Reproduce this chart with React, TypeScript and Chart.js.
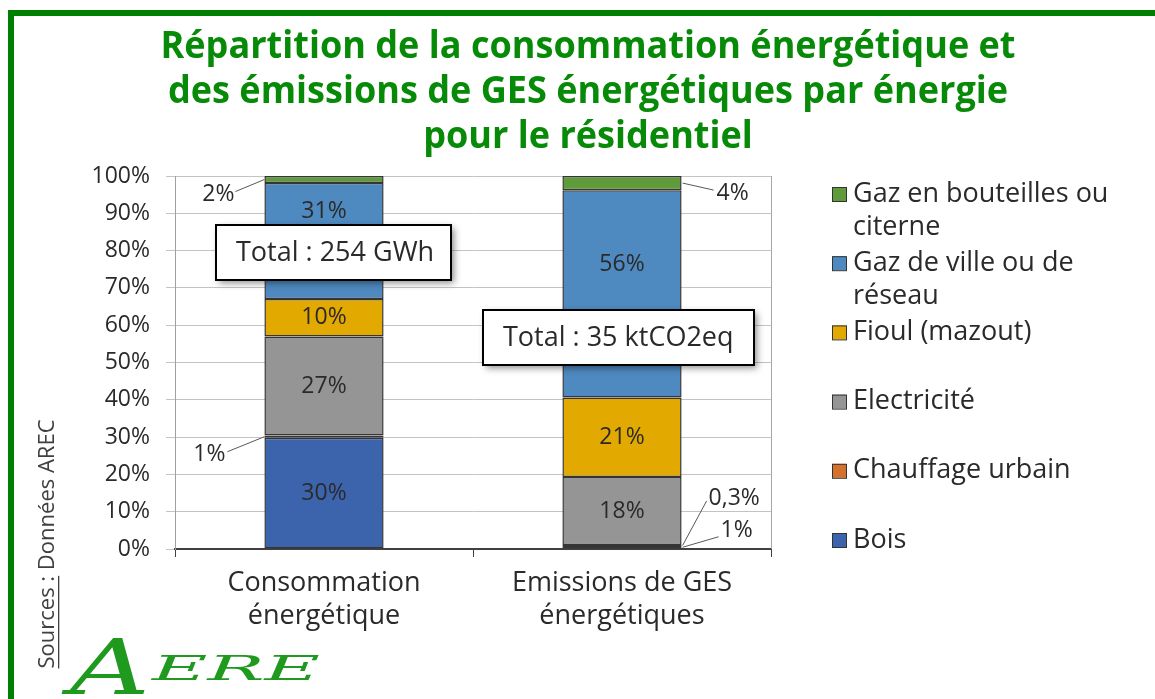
import React, { useEffect, useRef } from 'react';
import { Chart, registerables } from 'chart.js';

Chart.register(...registerables);

// ---------- data ----------
const categories = [['Consommation', 'énergétique'], ['Emissions de GES', 'énergétiques']];
const seriesNames = [
  'Bois',
  'Chauffage urbain',
  'Electricité',
  'Fioul (mazout)',
  'Gaz de ville ou de réseau',
  'Gaz en bouteilles ou citerne',
];
const bois = [29.8, 0.8];
const chauffageUrbain = [0.6, 0.3];
const electricite = [26.6, 18.2];
const fioul = [10.0, 21.3];
const gazDeVille = [31.1, 55.6];
const gazEnBouteilles = [1.9, 3.8];
const yTickValues = [0, 10, 20, 30, 40, 50, 60, 70, 80, 90, 100];
const totalLabels = ['Total : 254 GWh', 'Total : 35 ktCO2eq'];
const titleLines = [
  'Répartition de la consommation énergétique et',
  'des émissions de GES énergétiques par énergie',
  'pour le résidentiel',
];
const sourceUnderlined = 'Sources :';
const sourceRest = ' Données AREC';
const logoText = ['A', 'ERE'];

// ---------- styles ----------
const seriesColors = ['#3B64AD', '#D4712D', '#959595', '#E2A900', '#4E89BF', '#5F9B3B'];
const FONT = '"Open Sans", "DejaVu Sans", sans-serif';
const TEXT = '#2a2a2a';

// label placement tweaks (key: datasetIndex-categoryIndex)
const insideOffsets: Record<string, number> = { '4-0': -30, '4-1': -29 };
const callouts: Record<string, { side: 'left' | 'right'; lx: number; ly: number; tx: number; ty: number }> = {
  '5-0': { side: 'left', lx: -29, ly: 12, tx: -30, ty: 14.5 },
  '1-0': { side: 'left', lx: -37, ly: 15, tx: -39, ty: 18 },
  '5-1': { side: 'right', lx: 31, ly: 7, tx: 34, ty: 10 },
  '1-1': { side: 'right', lx: 24, ly: -44.5, tx: 26, ty: -47.5 },
  '0-1': { side: 'right', lx: 36, ly: -10.5, tx: 38, ty: -16.5 },
};
const totalBoxes = [
  { x: 216, y: 225, w: 235, h: 55 },
  { x: 483, y: 310, w: 271, h: 55 },
];

function fmt(v: number) {
  const r = Math.round(v);
  return r === 0 ? v.toFixed(1).replace('.', ',') + '%' : r + '%';
}

function wrap(ctx: CanvasRenderingContext2D, text: string, maxW: number) {
  const words = text.split(' ');
  const lines: string[] = [];
  let cur = '';
  words.forEach((w) => {
    const t = cur ? cur + ' ' + w : w;
    if (cur && ctx.measureText(t).width > maxW) {
      lines.push(cur);
      cur = w;
    } else cur = t;
  });
  if (cur) lines.push(cur);
  return lines;
}

const overlay = {
  id: 'overlay',
  beforeDraw(chart: any) {
    const ctx: CanvasRenderingContext2D = chart.ctx;
    const W = chart.width;
    const H = chart.height;
    ctx.save();
    ctx.fillStyle = '#ffffff';
    ctx.fillRect(0, 0, W, H);
    // frame
    ctx.fillStyle = '#008000';
    ctx.fillRect(8, 10, W - 8, 6);
    ctx.fillRect(8, 10, 6, H - 10);
    // title
    ctx.font = `bold 37px ${FONT}`;
    const w0 = ctx.measureText(titleLines[0]).width;
    const sx = 855 / w0;
    ctx.fillStyle = '#078a07';
    ctx.textAlign = 'center';
    ctx.textBaseline = 'alphabetic';
    titleLines.forEach((t, i) => {
      ctx.save();
      ctx.translate(588, 58 + i * 45);
      ctx.scale(sx, 1);
      ctx.fillText(t, 0, 0);
      ctx.restore();
    });
    // source (rotated)
    ctx.save();
    ctx.translate(48, 544);
    ctx.rotate(-Math.PI / 2);
    ctx.font = `22px ${FONT}`;
    ctx.fillStyle = '#404040';
    ctx.textAlign = 'left';
    ctx.textBaseline = 'middle';
    const wu = ctx.measureText(sourceUnderlined).width;
    const wr = ctx.measureText(sourceRest).width;
    const x0 = -(wu + wr) / 2;
    ctx.fillText(sourceUnderlined, x0, 0);
    ctx.fillText(sourceRest, x0 + wu, 0);
    ctx.fillRect(x0, 10, wu, 1.3);
    ctx.restore();
    // logo
    ctx.fillStyle = '#1f9a1f';
    ctx.textAlign = 'left';
    ctx.textBaseline = 'alphabetic';
    ctx.save();
    ctx.font = `italic 76px "DejaVu Serif", serif`;
    const wa = ctx.measureText(logoText[0]).width;
    ctx.translate(70, 694);
    ctx.scale(80 / wa, 1);
    ctx.fillText(logoText[0], 0, 0);
    ctx.restore();
    ctx.save();
    ctx.font = `italic 34px "DejaVu Serif", serif`;
    const we = ctx.measureText(logoText[1]).width;
    ctx.translate(152, 680);
    ctx.scale(168 / we, 1);
    ctx.fillText(logoText[1], 0, 0);
    ctx.restore();
    ctx.restore();
  },
  afterDatasetsDraw(chart: any) {
    const ctx: CanvasRenderingContext2D = chart.ctx;
    ctx.save();
    ctx.font = `23px ${FONT}`;
    ctx.fillStyle = TEXT;
    chart.data.datasets.forEach((ds: any, di: number) => {
      const meta = chart.getDatasetMeta(di);
      meta.data.forEach((bar: any, ci: number) => {
        const v = ds.data[ci];
        const key = `${di}-${ci}`;
        const cy = (bar.y + bar.base) / 2;
        const label = fmt(v);
        const co = callouts[key];
        if (co) {
          const ax = co.side === 'left' ? bar.x - bar.width / 2 : bar.x + bar.width / 2 + 1;
          ctx.strokeStyle = '#595959';
          ctx.lineWidth = 1;
          ctx.beginPath();
          ctx.moveTo(ax, cy);
          ctx.lineTo(ax + co.lx, cy + co.ly);
          ctx.stroke();
          ctx.textAlign = co.side === 'left' ? 'right' : 'left';
          ctx.textBaseline = 'middle';
          ctx.fillText(label, ax + co.tx, cy + co.ty);
        } else {
          ctx.textAlign = 'center';
          ctx.textBaseline = 'middle';
          ctx.fillText(label, bar.x, cy + (insideOffsets[key] || 0));
        }
      });
    });
    // total boxes
    totalBoxes.forEach((b, i) => {
      ctx.save();
      ctx.shadowColor = 'rgba(0,0,0,0.45)';
      ctx.shadowBlur = 7;
      ctx.shadowOffsetX = 3;
      ctx.shadowOffsetY = 3;
      ctx.fillStyle = '#ffffff';
      ctx.fillRect(b.x, b.y, b.w, b.h);
      ctx.restore();
      ctx.strokeStyle = '#000000';
      ctx.lineWidth = 2;
      ctx.strokeRect(b.x, b.y, b.w, b.h);
      ctx.font = `27px ${FONT}`;
      ctx.fillStyle = TEXT;
      ctx.textAlign = 'left';
      ctx.textBaseline = 'middle';
      ctx.fillText(totalLabels[i], b.x + 20, b.y + b.h / 2 + 1);
    });
    ctx.restore();
  },
  afterDraw(chart: any) {
    const ctx: CanvasRenderingContext2D = chart.ctx;
    const a = chart.chartArea;
    ctx.save();
    ctx.strokeStyle = '#a6a6a6';
    ctx.lineWidth = 1;
    ctx.beginPath();
    ctx.moveTo(Math.round(a.right) + 0.5, a.top);
    ctx.lineTo(Math.round(a.right) + 0.5, a.bottom);
    ctx.stroke();
    // legend
    ctx.font = `27px ${FONT}`;
    ctx.textAlign = 'left';
    ctx.textBaseline = 'middle';
    const n = chart.data.datasets.length;
    for (let k = 0; k < n; k++) {
      const di = n - 1 - k;
      const ds = chart.data.datasets[di];
      const y = 194 + k * 69.2;
      ctx.fillStyle = ds.backgroundColor;
      ctx.fillRect(832, y - 7, 14, 14);
      ctx.strokeStyle = '#333333';
      ctx.lineWidth = 1;
      ctx.strokeRect(832.5, y - 6.5, 14, 14);
      ctx.fillStyle = TEXT;
      const lines = wrap(ctx, ds.label, 290);
      lines.forEach((l, j) => ctx.fillText(l, 853, y + j * 33));
    }
    ctx.restore();
  },
};

export default function App() {
  const ref = useRef<HTMLCanvasElement | null>(null);
  useEffect(() => {
    if (!ref.current) return;
    const values = [bois, chauffageUrbain, electricite, fioul, gazDeVille, gazEnBouteilles];
    const chart = new Chart(ref.current, {
      type: 'bar',
      data: {
        labels: categories as any,
        datasets: values.map((d, i) => ({
          label: seriesNames[i],
          data: d,
          backgroundColor: seriesColors[i],
          borderColor: '#353535',
          borderWidth: 1.5,
          borderSkipped: false,
          barPercentage: 0.4,
          categoryPercentage: 1,
        })),
      },
      options: {
        animation: false,
        responsive: false,
        maintainAspectRatio: false,
        events: [],
        layout: { padding: { top: 176, right: 384, bottom: 0, left: 0 } },
        plugins: {
          legend: { display: false },
          title: { display: false },
          tooltip: { enabled: false },
        },
        scales: {
          x: {
            stacked: true,
            afterFit: (s: any) => {
              s.height = 150;
            },
            grid: { drawOnChartArea: false, drawTicks: true, tickLength: 8, color: '#404040', lineWidth: 1 },
            border: { color: '#404040', width: 2 },
            ticks: {
              font: { family: FONT, size: 27, lineHeight: 1.25 },
              color: TEXT,
              padding: 9,
              maxRotation: 0,
              autoSkip: false,
            },
          },
          y: {
            stacked: true,
            min: yTickValues[0],
            max: yTickValues[yTickValues.length - 1],
            afterFit: (s: any) => {
              s.width = 175;
            },
            afterBuildTicks: (s: any) => {
              s.ticks = yTickValues.map((v) => ({ value: v }));
            },
            grid: { color: '#c3c3c3', lineWidth: 1, tickLength: 9 },
            border: { color: '#a0a0a0', width: 1 },
            ticks: {
              callback: (v: any) => v + '%',
              padding: 16,
              font: { family: FONT, size: 23 },
              color: TEXT,
            },
          },
        },
      },
      plugins: [overlay],
    });
    return () => chart.destroy();
  }, []);
  return (
    <div style={{ position: 'fixed', left: 0, top: 0, width: 1155, height: 699, background: '#fff' }}>
      <canvas ref={ref} width={1155} height={699} style={{ display: 'block' }} />
    </div>
  );
}
